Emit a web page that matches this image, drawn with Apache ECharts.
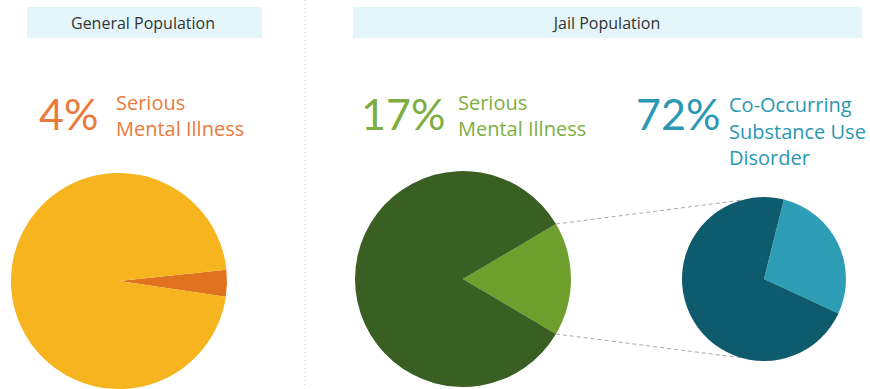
<!DOCTYPE html>
<html>
<head>
<meta charset="utf-8">
<script src="https://cdn.jsdelivr.net/npm/echarts@6/dist/echarts.min.js"></script>
<style>
  html, body { margin: 0; padding: 0; background: #ffffff; }
  #chart { width: 870px; height: 389px; }
</style>
</head>
<body>
<div id="chart"></div>
<script>
// Shares of people with serious mental illness, general vs jail population
var generalNames = ['Serious Mental Illness', 'Other'];
var generalValues = [4, 96];

var jailNames = ['Serious Mental Illness', 'Other'];
var jailValues = [17, 83];

// Of the jail population with serious mental illness
var coNames = ['No Substance Use Disorder', 'Co-Occurring Substance Use Disorder'];
var coValues = [28, 72];

var panelTitles = ['General Population', 'Jail Population'];

var FONT = '"Open Sans", Lato, sans-serif';
var BIG_FONT = 'Lato, "Open Sans", sans-serif';

// pie geometry
var pieGeneral = { center: [119, 281], r: 108, start: 6 };
var pieJail = { center: [463, 279], r: 108, start: 30.6 };
var pieCo = { center: [764, 279], r: 82, start: 76 };

function pct(v) { return v + '%'; }

function total(arr) { return arr.reduce(function (a, b) { return a + b; }, 0); }

// point on a circle, angle in degrees counter-clockwise from east
function polar(c, r, deg) {
  var a = deg * Math.PI / 180;
  return [c[0] + r * Math.cos(a), c[1] - r * Math.sin(a)];
}

// edges of the highlighted jail slice
var jailSweep = jailValues[0] / total(jailValues) * 360;
var edgeTop = polar(pieJail.center, pieJail.r, pieJail.start);
var edgeBottom = polar(pieJail.center, pieJail.r, pieJail.start - jailSweep);
var coTop = polar(pieCo.center, pieCo.r, 106);
var coBottom = polar(pieCo.center, pieCo.r, -106);

function pieSeries(geom, names, values, colors) {
  return {
    type: 'pie',
    center: geom.center,
    radius: geom.r,
    startAngle: geom.start,
    clockwise: true,
    silent: true,
    label: { show: false },
    labelLine: { show: false },
    itemStyle: { borderWidth: 0 },
    emphasis: { disabled: true },
    animation: false,
    data: values.map(function (v, i) {
      return { name: names[i], value: v, itemStyle: { color: colors[i] } };
    })
  };
}

function textEl(x, y, text, font, color, align) {
  return {
    type: 'text',
    x: x, y: y,
    silent: true,
    style: {
      text: text,
      font: font,
      fill: color,
      textAlign: align || 'left',
      textVerticalAlign: 'middle'
    }
  };
}

var ORANGE = '#EA7A3C';
var GREEN = '#7DAE41';
var TEAL = '#2A98B3';
var LABEL = '20px ' + FONT;
var BIG = '43px ' + BIG_FONT;
var HEAD = '16px ' + FONT;

var chart = echarts.init(document.getElementById('chart'), null, { renderer: 'svg' });

chart.setOption({
  backgroundColor: '#ffffff',
  animation: false,
  graphic: [
    // header bands
    { type: 'rect', silent: true, shape: { x: 27, y: 7, width: 235, height: 31 }, style: { fill: '#E4F6FA' } },
    { type: 'rect', silent: true, shape: { x: 353, y: 7, width: 509, height: 31 }, style: { fill: '#E4F6FA' } },
    textEl(143, 23, panelTitles[0], HEAD, '#333333', 'center'),
    textEl(607, 23, panelTitles[1], HEAD, '#333333', 'center'),
    // panel separator
    { type: 'line', silent: true, shape: { x1: 305, y1: 0, x2: 305, y2: 389 },
      style: { stroke: '#cfcfcf', lineWidth: 1, lineDash: [1, 3] } },
    // general population callout
    textEl(39, 113, pct(generalValues[0]), BIG, ORANGE),
    textEl(116, 102, 'Serious', LABEL, ORANGE),
    textEl(116, 128, 'Mental Illness', LABEL, ORANGE),
    // jail population callout
    textEl(361, 113, pct(jailValues[0]), BIG, GREEN),
    textEl(458, 102, 'Serious', LABEL, GREEN),
    textEl(458, 128, 'Mental Illness', LABEL, GREEN),
    // co-occurring callout
    textEl(636, 113, pct(coValues[1]), BIG, TEAL),
    textEl(729, 104, 'Co-Occurring', LABEL, TEAL),
    textEl(729, 131, 'Substance Use', LABEL, TEAL),
    textEl(729, 157, 'Disorder', LABEL, TEAL),
    // connectors from the jail slice to the breakdown pie
    { type: 'line', silent: true, z: -1,
      shape: { x1: edgeTop[0], y1: edgeTop[1], x2: coTop[0], y2: coTop[1] },
      style: { stroke: '#a8a8a8', lineWidth: 1, lineDash: [4, 3] } },
    { type: 'line', silent: true, z: -1,
      shape: { x1: edgeBottom[0], y1: edgeBottom[1], x2: coBottom[0], y2: coBottom[1] },
      style: { stroke: '#a8a8a8', lineWidth: 1, lineDash: [4, 3] } }
  ],
  series: [
    pieSeries(pieGeneral, generalNames, generalValues, ['#E1721F', '#F6B51E']),
    pieSeries(pieJail, jailNames, jailValues, ['#6E9F2D', '#3A5F23']),
    pieSeries(pieCo, coNames, coValues, ['#2E9EB7', '#0E5B6E'])
  ]
});
</script>
</body>
</html>
